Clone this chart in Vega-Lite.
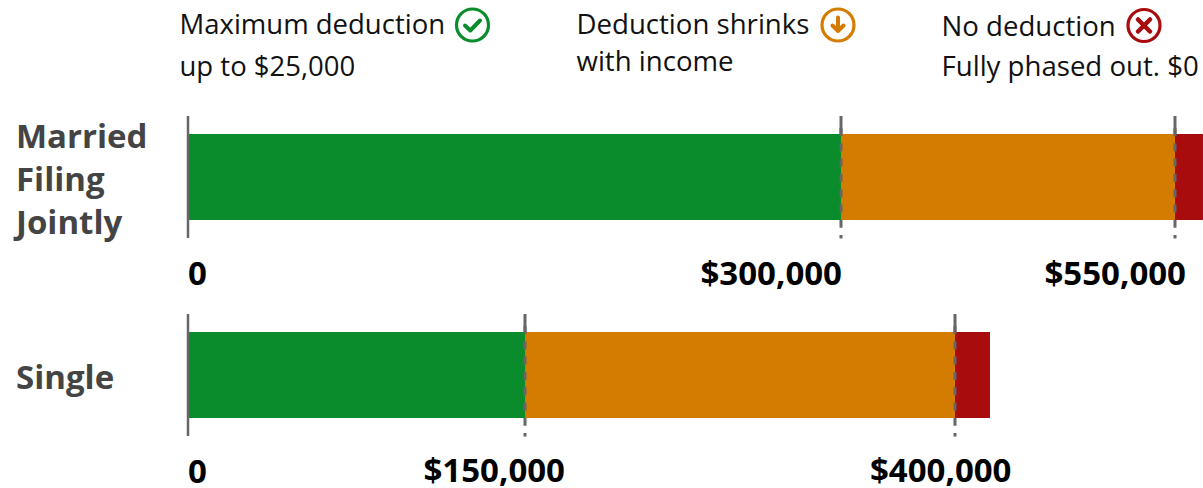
{"$schema":"https://vega.github.io/schema/vega-lite/v6.json","width":1203,"height":488,"autosize":{"type":"fit","contains":"padding"},"padding":0,"background":"white","config":{"view":{"stroke":null},"text":{"font":"Open Sans"}},
"datasets":{
"segments":[
{"group":"Married Filing Jointly","segment":"Maximum deduction","value":0,"end":300000},
{"group":"Married Filing Jointly","segment":"Deduction shrinks","value":300000,"end":550000},
{"group":"Married Filing Jointly","segment":"No deduction","value":550000,"end":570000},
{"group":"Single","segment":"Maximum deduction","value":0,"end":150000},
{"group":"Single","segment":"Deduction shrinks","value":150000,"end":400000},
{"group":"Single","segment":"No deduction","value":400000,"end":415000}],
"thresholds":[
{"group":"Married Filing Jointly","value":300000},
{"group":"Married Filing Jointly","value":550000},
{"group":"Single","value":150000},
{"group":"Single","value":400000}],
"zero":[{"group":"Married Filing Jointly","value":0},{"group":"Single","value":0}]},
"encoding":{
"x":{"field":"value","type":"quantitative","axis":null,"scale":{"type":"linear","zero":false,"nice":false,"domain":[0,150000,300000,400000,415000,550000,570000],"range":[188,525,841,955,990,1175,1203]}},
"y":{"field":"group","type":"nominal","axis":null,"scale":{"type":"point","padding":0,"domain":["Married Filing Jointly","Single"],"range":[177,375]}}},
"layer":[
{"data":{"name":"segments"},"mark":{"type":"bar","size":86},"encoding":{"x2":{"field":"end"},"color":{"field":"segment","type":"nominal","legend":null,"scale":{"domain":["Maximum deduction","Deduction shrinks","No deduction"],"range":["#0b8c2c","#d47c00","#a80c0c"]}}}},
{"data":{"name":"zero"},"mark":{"type":"rule","color":"#666666","strokeWidth":2.5,"yOffset":-61,"y2Offset":61,"xOffset":0},"encoding":{"y2":{"field":"group"}}},
{"data":{"name":"thresholds"},"mark":{"type":"rule","color":"#666666","strokeWidth":3,"yOffset":-61,"y2Offset":-43},"encoding":{"y2":{"field":"group"}}},
{"data":{"name":"thresholds"},"mark":{"type":"rule","color":"#666666","strokeWidth":3,"yOffset":-49,"y2Offset":61.5,"strokeDash":[8,7.3]},"encoding":{"y2":{"field":"group"}}},
{"data":{"values":[{"group":"Married Filing Jointly","value":0,"label":"Married\nFiling\nJointly"}]},"mark":{"type":"text","lineBreak":"\n","align":"left","baseline":"alphabetic","dx":-172,"dy":-29,"fontSize":33,"fontWeight":"bold","lineHeight":43,"fill":"#444444"},"encoding":{"text":{"field":"label"}}},
{"data":{"values":[{"group":"Single","value":0,"label":"Single"}]},"mark":{"type":"text","align":"left","baseline":"alphabetic","dx":-172,"dy":14,"fontSize":33,"fontWeight":"bold","fill":"#444444"},"encoding":{"text":{"field":"label"}}},
{"data":{"values":[{"group":"Married Filing Jointly","value":0,"label":"0"},{"group":"Single","value":0,"label":"0"}]},"mark":{"type":"text","align":"left","baseline":"alphabetic","dy":107.5,"fontSize":33,"fontWeight":"bold","fill":"#000000"},"encoding":{"text":{"field":"label"}}},
{"data":{"values":[{"group":"Married Filing Jointly","value":300000,"label":"$300,000"}]},"mark":{"type":"text","align":"right","baseline":"alphabetic","dy":108,"dx":1,"fontSize":33,"fontWeight":"bold","fill":"#000000"},"encoding":{"text":{"field":"label"}}},
{"data":{"values":[{"group":"Married Filing Jointly","value":550000,"label":"$550,000"}]},"mark":{"type":"text","align":"right","baseline":"alphabetic","dy":108,"dx":11,"fontSize":33,"fontWeight":"bold","fill":"#000000"},"encoding":{"text":{"field":"label"}}},
{"data":{"values":[{"group":"Single","value":150000,"label":"$150,000"}]},"mark":{"type":"text","align":"right","baseline":"alphabetic","dy":107,"dx":40,"fontSize":33,"fontWeight":"bold","fill":"#000000"},"encoding":{"text":{"field":"label"}}},
{"data":{"values":[{"group":"Single","value":400000,"label":"$400,000"}]},"mark":{"type":"text","align":"right","baseline":"alphabetic","dy":107,"dx":56.5,"fontSize":33,"fontWeight":"bold","fill":"#000000"},"encoding":{"text":{"field":"label"}}},
{"data":{"values":[{"group":"Married Filing Jointly","value":0,"label":"Maximum deduction\nup to $25,000"}]},"mark":{"type":"text","lineBreak":"\n","align":"left","baseline":"alphabetic","dx":-8.5,"dy":-143,"lineHeight":42,"fontSize":27.5,"fill":"#111111"},"encoding":{"text":{"field":"label"}}},
{"data":{"values":[{"group":"Married Filing Jointly","value":300000,"label":"Deduction shrinks\nwith income"}]},"mark":{"type":"text","lineBreak":"\n","align":"left","baseline":"alphabetic","dx":-264.5,"dy":-143,"lineHeight":37,"fontSize":27.6,"fill":"#111111"},"encoding":{"text":{"field":"label"}}},
{"data":{"values":[{"group":"Married Filing Jointly","value":400000,"label":"No deduction\nFully phased out. $0"}]},"mark":{"type":"text","lineBreak":"\n","align":"left","baseline":"alphabetic","dx":-13.5,"dy":-141,"lineHeight":40,"fontSize":27.6,"fill":"#111111"},"encoding":{"text":{"field":"label"}}},
{"data":{"values":[{"group":"Married Filing Jointly","value":0}]},"mark":{"type":"point","shape":"circle","size":1024,"filled":false,"stroke":"#0b8c2c","strokeWidth":3.2,"opacity":1,"xOffset":284.5,"yOffset":-152}},
{"data":{"values":[{"group":"Married Filing Jointly","value":0}]},"mark":{"type":"point","shape":"M-0.75,0.05L-0.22,0.55L0.75,-0.45","size":400,"filled":false,"stroke":"#0b8c2c","strokeWidth":4,"strokeCap":"round","strokeJoin":"round","opacity":1,"xOffset":284.5,"yOffset":-152}},
{"data":{"values":[{"group":"Married Filing Jointly","value":300000}]},"mark":{"type":"point","shape":"circle","size":1024,"filled":false,"stroke":"#d47c00","strokeWidth":3.2,"opacity":1,"xOffset":-3,"yOffset":-152}},
{"data":{"values":[{"group":"Married Filing Jointly","value":300000}]},"mark":{"type":"point","shape":"M0,-0.75L0,0.6M-0.55,0.05L0,0.6L0.55,0.05","size":400,"filled":false,"stroke":"#d47c00","strokeWidth":4,"strokeCap":"round","strokeJoin":"round","opacity":1,"xOffset":-3,"yOffset":-152}},
{"data":{"values":[{"group":"Married Filing Jointly","value":400000}]},"mark":{"type":"point","shape":"circle","size":1024,"filled":false,"stroke":"#a80c0c","strokeWidth":3.2,"opacity":1,"xOffset":189,"yOffset":-151.5}},
{"data":{"values":[{"group":"Married Filing Jointly","value":400000}]},"mark":{"type":"point","shape":"M-0.6,-0.6L0.6,0.6M0.6,-0.6L-0.6,0.6","size":400,"filled":false,"stroke":"#a80c0c","strokeWidth":4.5,"strokeCap":"round","opacity":1,"xOffset":189,"yOffset":-151.5}}
]}
